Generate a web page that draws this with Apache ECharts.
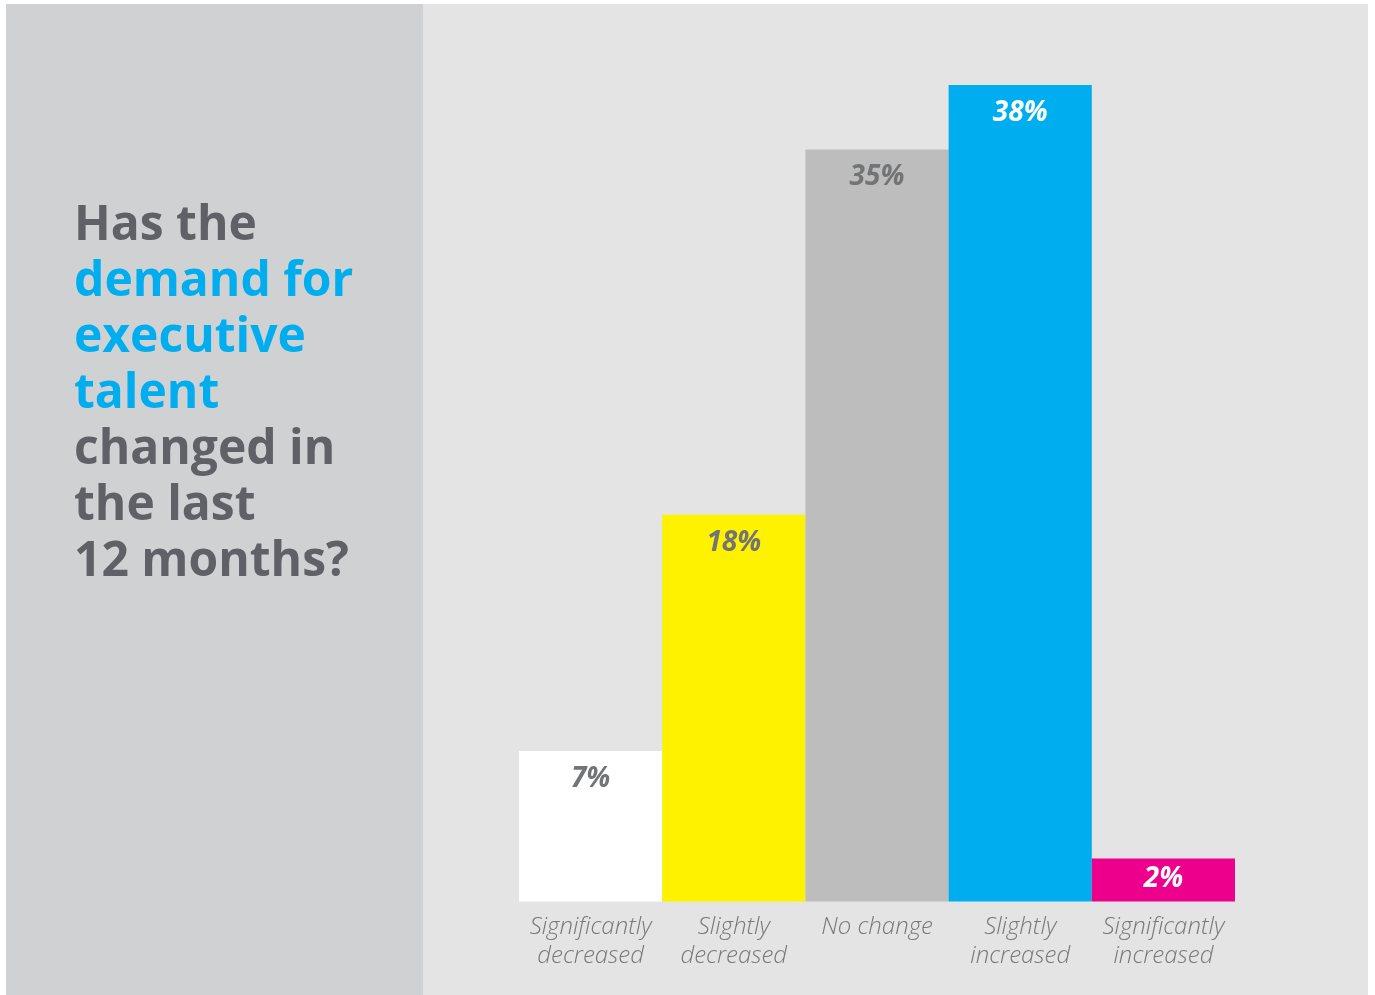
<!DOCTYPE html>
<html>
<head>
<meta charset="utf-8">
<script src="https://cdn.jsdelivr.net/npm/echarts@6/dist/echarts.min.js"></script>
<style>
html,body{margin:0;padding:0;background:#ffffff;}
#chart{width:1375px;height:995px;}
</style>
</head>
<body>
<div id="chart"></div>
<script>
const categories = ['Significantly\ndecreased', 'Slightly\ndecreased', 'No change', 'Slightly\nincreased', 'Significantly\nincreased'];
const values = [7, 18, 35, 38, 2];
const barColors = ['#ffffff', '#fff200', '#bcbdbc', '#00aeef', '#ec008c'];
const labelColors = ['#737476', '#737476', '#737476', '#ffffff', '#ffffff'];
const titleLines = [
  ['Has the', 'g'],
  ['demand for', 'b'],
  ['executive', 'b'],
  ['talent', 'b'],
  ['changed in', 'g'],
  ['the last', 'g'],
  ['12 months?', 'g']
];

const chart = echarts.init(document.getElementById('chart'));
const font = '"Open Sans", "Noto Sans", sans-serif';

chart.setOption({
  animation: false,
  backgroundColor: '#ffffff',
  graphic: [
    { type: 'rect', z: -10, shape: { x: 6, y: 4, width: 417, height: 991 }, style: { fill: '#d0d1d3' } },
    { type: 'rect', z: -10, shape: { x: 423, y: 4, width: 945, height: 991 }, style: { fill: '#e4e4e4' } }
  ],
  title: {
    left: 69,
    top: 193,
    text: titleLines.map(l => '{' + l[1] + '|' + l[0] + '}').join('\n'),
    textStyle: {
      rich: {
        g: { color: '#606167', fontSize: 48, fontWeight: 'bold', fontFamily: font, lineHeight: 56 },
        b: { color: '#00aeef', fontSize: 48, fontWeight: 'bold', fontFamily: font, lineHeight: 56 }
      }
    }
  },
  grid: { left: 519, right: 140, top: 85, bottom: 93.5 },
  xAxis: {
    type: 'category',
    data: categories,
    axisLine: { show: false },
    axisTick: { show: false },
    axisLabel: {
      interval: 0,
      margin: 11,
      color: '#77787b',
      fontSize: 24,
      fontStyle: 'italic',
      fontWeight: 300,
      fontFamily: font,
      lineHeight: 29
    }
  },
  yAxis: {
    type: 'value',
    min: 0,
    max: 38,
    show: false,
    splitLine: { show: false }
  },
  series: [{
    type: 'bar',
    barCategoryGap: 0,
    data: values.map((v, i) => ({
      value: v,
      itemStyle: { color: barColors[i] },
      label: { color: labelColors[i], distance: v < 5 ? 7 : 14 }
    })),
    label: {
      show: true,
      position: 'insideTop',
      formatter: '{c}%',
      fontSize: 28,
      fontStyle: 'italic',
      fontWeight: 'bold',
      fontFamily: font
    }
  }]
});
</script>
</body>
</html>
